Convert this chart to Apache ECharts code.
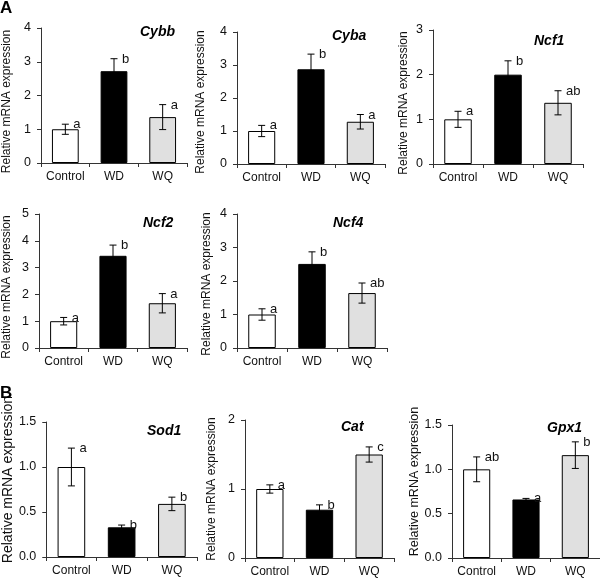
<!DOCTYPE html>
<html>
<head>
<meta charset="utf-8">
<script src="https://cdn.jsdelivr.net/npm/echarts@6/dist/echarts.min.js"></script>
<style>
html,body{margin:0;padding:0;background:#fff;}
#chart{width:600px;height:578px;}
</style>
</head>
<body>
<div id="chart"></div>
<script>
// ---- data ----
const categories = ['Control', 'WD', 'WQ'];
const genes = ['Cybb', 'Cyba', 'Ncf1', 'Ncf2', 'Ncf4', 'Sod1', 'Cat', 'Gpx1'];

const cybbMean = [1.0, 2.72, 1.36];
const cybbErr = [0.15, 0.37, 0.37];
const cybbLetters = ['a', 'b', 'a'];

const cybaMean = [1.0, 2.87, 1.28];
const cybaErr = [0.17, 0.46, 0.22];
const cybaLetters = ['a', 'b', 'a'];

const ncf1Mean = [1.0, 2.0, 1.37];
const ncf1Err = [0.18, 0.31, 0.27];
const ncf1Letters = ['a', 'b', 'ab'];

const ncf2Mean = [1.0, 3.44, 1.67];
const ncf2Err = [0.14, 0.40, 0.36];
const ncf2Letters = ['a', 'b', 'a'];

const ncf4Mean = [1.0, 2.51, 1.64];
const ncf4Err = [0.17, 0.36, 0.30];
const ncf4Letters = ['a', 'b', 'ab'];

const sod1Mean = [1.0, 0.33, 0.59];
const sod1Err = [0.21, 0.025, 0.075];
const sod1Letters = ['a', 'b', 'b'];

const catMean = [1.0, 0.70, 1.50];
const catErr = [0.06, 0.07, 0.11];
const catLetters = ['a', 'b', 'c'];

const gpx1Mean = [1.0, 0.66, 1.16];
const gpx1Err = [0.14, 0.012, 0.15];
const gpx1Letters = ['ab', 'a', 'b'];

const yMaxes = [4, 4, 3, 5, 4, 1.5, 2, 1.5];
const yIntervals = [1, 1, 1, 1, 1, 0.5, 1, 0.5];
const yDecimals = [0, 0, 0, 0, 0, 1, 0, 1];

const means = [cybbMean, cybaMean, ncf1Mean, ncf2Mean, ncf4Mean, sod1Mean, catMean, gpx1Mean];
const errs = [cybbErr, cybaErr, ncf1Err, ncf2Err, ncf4Err, sod1Err, catErr, gpx1Err];
const letters = [cybbLetters, cybaLetters, ncf1Letters, ncf2Letters, ncf4Letters, sod1Letters, catLetters, gpx1Letters];

// ---- layout / style ----
const FONT = 'Liberation Sans, Arial, sans-serif';
const barColors = ['#ffffff', '#000000', '#e0e0e0'];
const grids = [
  {left: 40, top: 28, width: 147, height: 135},
  {left: 237, top: 32, width: 148, height: 132},
  {left: 433, top: 30, width: 150, height: 134},
  {left: 36, top: 214, width: 151, height: 134},
  {left: 237, top: 214, width: 150, height: 134},
  {left: 44, top: 422, width: 153, height: 135},
  {left: 245, top: 420, width: 149, height: 138},
  {left: 452, top: 425, width: 148, height: 135}
];
const nameGaps = [28, 30, 23, 26, 24, 31, 27, 29];
const nameSizes = [12, 12, 12, 12, 12, 14, 12, 12.5];
const namePads = [[0,12,0,0], [0,8,0,0], [0,12,0,0], [0,12,0,0], [0,6,0,0], [0,0,0,20], [0,0,0,0], [0,0,0,20]];
const titlePos = [
  [140, 25], [332, 29], [534, 34], [143, 216], [333, 216], [147, 424], [341, 420], [547, 421]
];

const option = {
  animation: false,
  backgroundColor: '#fff',
  textStyle: {fontFamily: FONT},
  title: [],
  grid: [],
  xAxis: [],
  yAxis: [],
  series: []
};

option.title.push({text: 'A', left: 0, top: 0, padding: 0,
  textStyle: {fontFamily: FONT, fontSize: 17, fontWeight: 'bold', color: '#000'}});
option.title.push({text: 'B', left: 0, top: 385, padding: 0,
  textStyle: {fontFamily: FONT, fontSize: 17, fontWeight: 'bold', color: '#000'}});

genes.forEach(function (g, i) {
  option.title.push({text: g, left: titlePos[i][0], top: titlePos[i][1], padding: 0,
    textStyle: {fontFamily: FONT, fontSize: 14, fontWeight: 'bold', fontStyle: 'italic', color: '#000'}});
  option.grid.push(Object.assign({containLabel: false}, grids[i]));
  option.xAxis.push({
    type: 'category', gridIndex: i, data: categories,
    axisLine: {lineStyle: {color: '#333', width: 1}},
    axisTick: {show: true, length: 4, lineStyle: {color: '#333'}},
    axisLabel: {interval: 0, fontFamily: FONT, fontSize: 12, color: '#111', margin: 8}
  });
  const dec = yDecimals[i];
  option.yAxis.push({
    type: 'value', gridIndex: i, min: 0, max: yMaxes[i], interval: yIntervals[i],
    name: 'Relative mRNA expression', nameLocation: 'middle', nameGap: nameGaps[i],
    nameTextStyle: {fontFamily: FONT, fontSize: nameSizes[i], color: '#111', padding: namePads[i]},
    axisLine: {show: true, lineStyle: {color: '#333', width: 1}},
    axisTick: {show: true, length: 4, lineStyle: {color: '#333'}},
    splitLine: {show: false},
    axisLabel: {fontFamily: FONT, fontSize: 12.5, color: '#111', margin: 10,
      formatter: function (v) { return v.toFixed(dec); }}
  });
  option.series.push({
    type: 'bar', xAxisIndex: i, yAxisIndex: i, barWidth: '55%',
    data: means[i].map(function (v, k) {
      return {value: v, itemStyle: {color: barColors[k], borderColor: '#000', borderWidth: 1}};
    })
  });
  const lt = letters[i];
  option.series.push({
    type: 'custom', xAxisIndex: i, yAxisIndex: i, z: 5,
    data: means[i].map(function (v, k) { return [k, v, errs[i][k]]; }),
    renderItem: function (params, api) {
      const x = api.value(0), m = api.value(1), e = api.value(2);
      const top = api.coord([x, m + e]);
      const bot = api.coord([x, m - e]);
      const cx = top[0];
      const cap = 3.5;
      const st = {stroke: '#000', lineWidth: 1};
      return {
        type: 'group',
        children: [
          {type: 'line', shape: {x1: cx, y1: top[1], x2: cx, y2: bot[1]}, style: st},
          {type: 'line', shape: {x1: cx - cap, y1: top[1], x2: cx + cap, y2: top[1]}, style: st},
          {type: 'line', shape: {x1: cx - cap, y1: bot[1], x2: cx + cap, y2: bot[1]}, style: st},
          {type: 'text', style: {text: lt[params.dataIndex], x: cx + 8, y: top[1] + 7,
            fontFamily: FONT, fontSize: 13, fill: '#111', textAlign: 'left', textVerticalAlign: 'bottom'}}
        ]
      };
    }
  });
});

const chart = echarts.init(document.getElementById('chart'), null, {renderer: 'canvas'});
chart.setOption(option);
</script>
</body>
</html>
